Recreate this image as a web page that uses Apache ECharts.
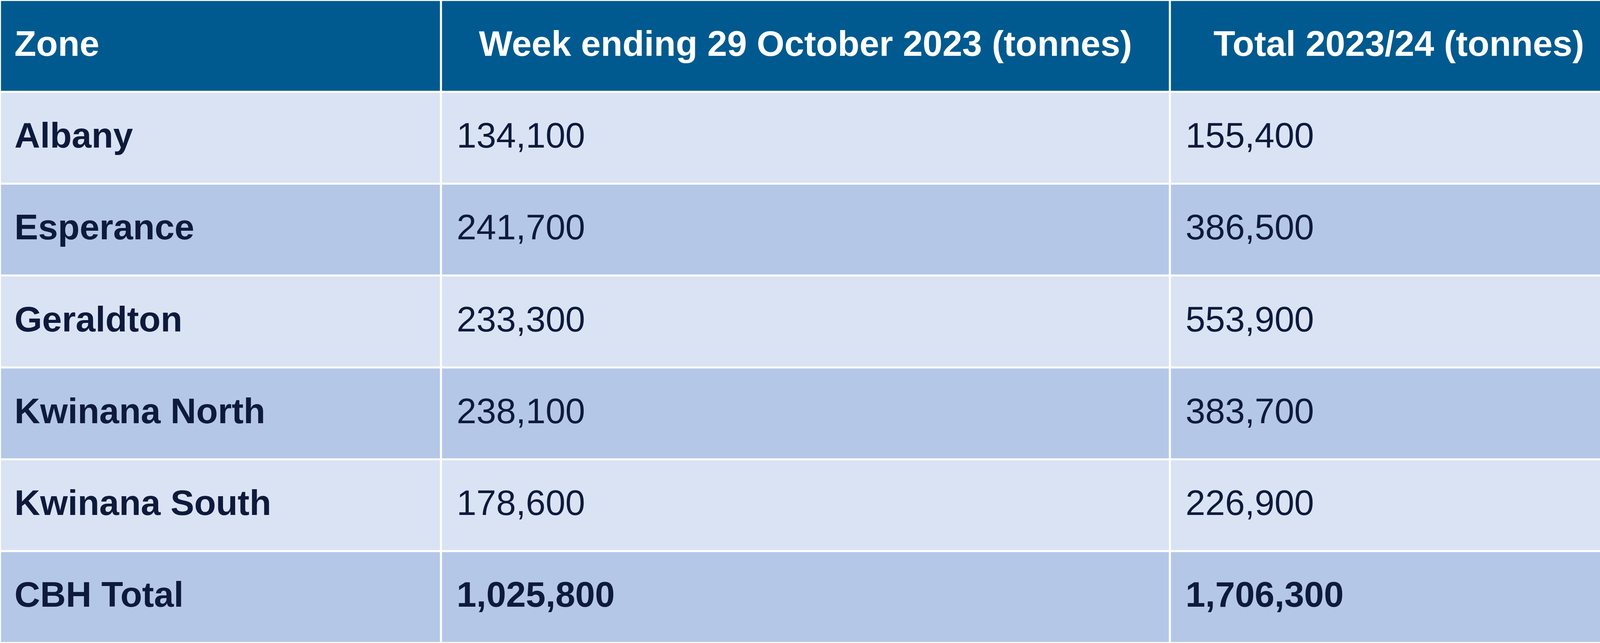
<!DOCTYPE html>
<html><head><meta charset="utf-8">
<script src="https://cdn.jsdelivr.net/npm/echarts@6/dist/echarts.min.js"></script>
<style>html,body{margin:0;padding:0;background:#fff}#c{width:4167px;height:1647px}</style>
</head><body><div id="c"></div>
<script>
const headers = ['Zone', 'Week ending 29 October 2023 (tonnes)', 'Total 2023/24 (tonnes)'];
const zones = ['Albany', 'Esperance', 'Geraldton', 'Kwinana North', 'Kwinana South', 'CBH Total'];
const weekly = ['134,100', '241,700', '233,300', '238,100', '178,600', '1,025,800'];
const totals = ['155,400', '386,500', '553,900', '383,700', '226,900', '1,706,300'];

const colEdges = [0, 1129, 2995, 4167];
const rowsCat = ['h'].concat(zones);
const cells = [];
headers.forEach((h, c) => cells.push([c, 0, h]));
zones.forEach((z, r) => {
  cells.push([0, r + 1, z]);
  cells.push([1, r + 1, weekly[r]]);
  cells.push([2, r + 1, totals[r]]);
});

const chart = echarts.init(document.getElementById('c'));
chart.setOption({
  animation: false,
  grid: {left: 0, right: 0, top: 0, bottom: 0},
  xAxis: {type: 'value', min: 0, max: 4167, show: false},
  yAxis: {type: 'category', data: rowsCat, inverse: true, show: false},
  series: [{
    type: 'custom',
    data: cells,
    encode: {x: 0, y: 1},
    renderItem: function (params, api) {
      const c = api.value(0), r = api.value(1);
      const text = cells[params.dataIndex][2];
      const x0 = api.coord([colEdges[c], r])[0];
      const x1 = api.coord([colEdges[c + 1], r])[0];
      const yc = api.coord([0, r])[1];
      const h = api.size([0, 1])[1];
      const isHeader = r === 0;
      const fill = isHeader ? '#005a8f' : (r % 2 === 1 ? '#dae3f3' : '#b4c7e7');
      const bold = isHeader || c === 0 || r === zones.length;
      const center = isHeader && c > 0;
      return {
        type: 'group',
        children: [
          {type: 'rect', shape: {x: x0, y: yc - h / 2, width: x1 - x0, height: h},
           style: {fill: fill, stroke: '#ffffff', lineWidth: 5}},
          {type: 'text', style: {
            text: text,
            x: center ? (x0 + x1) / 2 : x0 + (c === 0 ? 37 : 40),
            y: yc,
            align: center ? 'center' : 'left',
            verticalAlign: 'middle',
            fill: isHeader ? '#ffffff' : '#0e1a3c',
            font: (bold ? 'bold ' : '') + '91px "Liberation Sans", Arial, sans-serif'
          }}
        ]
      };
    }
  }]
});
</script></body></html>
